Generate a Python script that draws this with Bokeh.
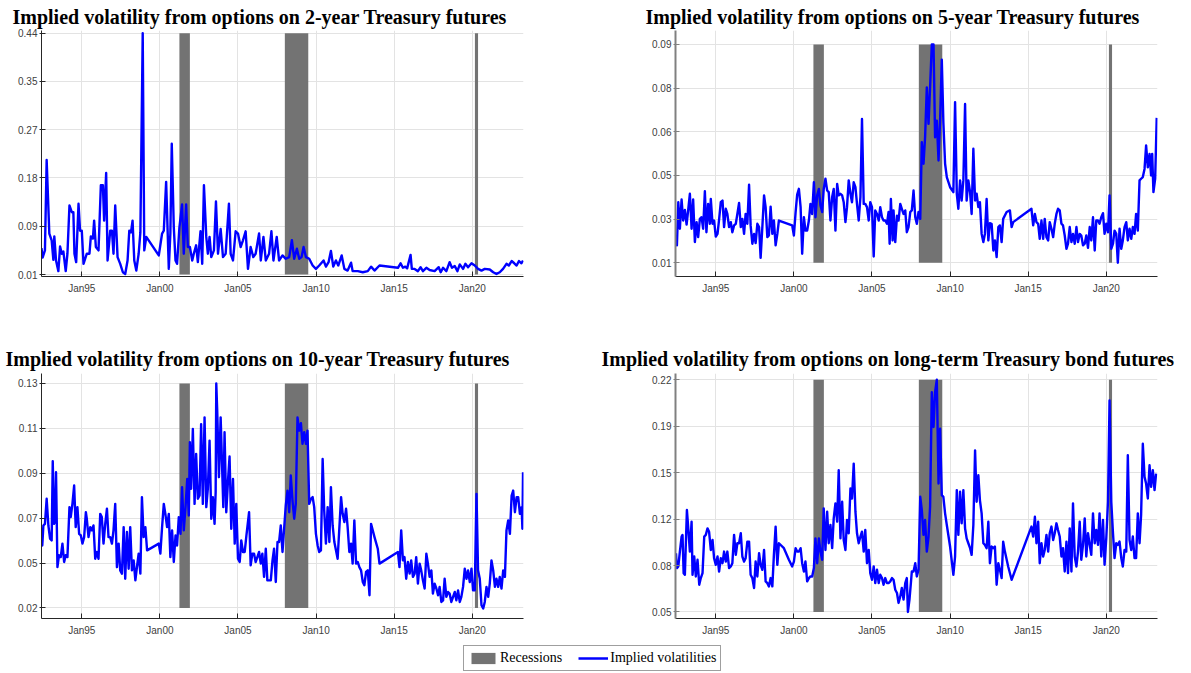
import numpy as np
from bokeh.plotting import figure
from bokeh.layouts import column, row
from bokeh.models import FixedTicker, Legend, LegendItem, Range1d
from bokeh.embed import file_html
from bokeh.resources import INLINE

# ---------------- data ----------------
rec_start = [2001.25, 2008.00, 2020.17]
rec_end = [2001.92, 2009.50, 2020.37]

x_tick_years = [1995, 2000, 2005, 2010, 2015, 2020]
x_tick_labels = ["Jan95", "Jan00", "Jan05", "Jan10", "Jan15", "Jan20"]

title_2y = "Implied volatility from options on 2-year Treasury futures"
title_5y = "Implied volatility from options on 5-year Treasury futures"
title_10y = "Implied volatility from options on 10-year Treasury futures"
title_bond = "Implied volatility from options on long-term Treasury bond futures"

ylabels_2y = ["0.01", "0.09", "0.18", "0.27", "0.35", "0.44"]
ylabels_5y = ["0.01", "0.03", "0.05", "0.06", "0.08", "0.09"]
ylabels_10y = ["0.02", "0.05", "0.07", "0.09", "0.11", "0.13"]
ylabels_bond = ["0.05", "0.08", "0.12", "0.15", "0.19", "0.22"]

dates_2y = [
    1992.42, 1992.49, 1992.64, 1992.75, 1992.92, 1993.07, 1993.18, 1993.24, 1993.35, 1993.50,
    1993.61, 1993.72, 1993.82, 1993.97, 1994.08, 1994.21, 1994.36, 1994.46, 1994.53, 1994.64,
    1994.79, 1994.89, 1995.00, 1995.11, 1995.32, 1995.49, 1995.58, 1995.71, 1995.79, 1995.90,
    1996.07, 1996.22, 1996.35, 1996.43, 1996.56, 1996.65, 1996.82, 1996.93, 1997.03, 1997.14,
    1997.29, 1997.46, 1997.63, 1997.78, 1997.93, 1998.04, 1998.15, 1998.25, 1998.36, 1998.49,
    1998.64, 1998.75, 1998.90, 1999.00, 1999.13, 1999.93, 2000.14, 2000.25, 2000.40, 2000.57,
    2000.67, 2000.76, 2000.89, 2001.00, 2001.10, 2001.25, 2001.42, 2001.53, 2001.68, 2001.79,
    2001.92, 2002.07, 2002.17, 2002.32, 2002.43, 2002.60, 2002.71, 2002.82, 2002.97, 2003.07,
    2003.18, 2003.29, 2003.46, 2003.59, 2003.72, 2003.89, 2004.04, 2004.21, 2004.42, 2004.53,
    2004.68, 2004.85, 2005.00, 2005.17, 2005.32, 2005.49, 2005.64, 2005.81, 2005.98, 2006.13,
    2006.35, 2006.46, 2006.63, 2006.78, 2006.99, 2007.14, 2007.27, 2007.48, 2007.63, 2007.85,
    2008.06, 2008.28, 2008.45, 2008.60, 2008.77, 2008.92, 2009.07, 2009.20, 2009.35, 2009.56,
    2009.78, 2009.99, 2010.20, 2010.48, 2010.63, 2010.80, 2010.95, 2011.10, 2011.27, 2011.42,
    2011.64, 2011.81, 2012.02, 2012.24, 2012.34, 2012.67, 2012.99, 2013.31, 2013.52, 2013.74,
    2014.06, 2015.24, 2015.41, 2015.56, 2015.71, 2015.83, 2016.05, 2016.13, 2016.31, 2016.52,
    2016.69, 2016.84, 2017.06, 2017.27, 2017.59, 2017.85, 2017.98, 2018.13, 2018.34, 2018.55,
    2018.70, 2018.88, 2019.05, 2019.20, 2019.41, 2019.56, 2019.73, 2019.95, 2020.16, 2020.37,
    2020.59, 2020.80, 2021.12, 2021.34, 2021.55, 2021.76, 2021.97, 2022.19, 2022.34, 2022.52,
    2022.69, 2022.84, 2022.99, 2023.15, 2023.25]
iv_2y = [
    0.057, 0.040, 0.053, 0.214, 0.083, 0.071, 0.036, 0.078, 0.035, 0.016,
    0.060, 0.047, 0.051, 0.016, 0.047, 0.133, 0.121, 0.121, 0.047, 0.032,
    0.136, 0.088, 0.088, 0.029, 0.047, 0.047, 0.078, 0.074, 0.106, 0.059,
    0.053, 0.169, 0.169, 0.106, 0.191, 0.035, 0.088, 0.088, 0.047, 0.133,
    0.041, 0.029, 0.014, 0.011, 0.035, 0.088, 0.085, 0.106, 0.035, 0.017,
    0.047, 0.085, 0.440, 0.053, 0.077, 0.044, 0.083, 0.088, 0.175, 0.020,
    0.083, 0.243, 0.094, 0.035, 0.029, 0.094, 0.135, 0.047, 0.135, 0.059,
    0.059, 0.035, 0.047, 0.062, 0.032, 0.087, 0.029, 0.169, 0.077, 0.047,
    0.077, 0.041, 0.053, 0.140, 0.047, 0.091, 0.041, 0.047, 0.136, 0.047,
    0.035, 0.087, 0.083, 0.059, 0.071, 0.087, 0.020, 0.059, 0.041, 0.047,
    0.083, 0.035, 0.077, 0.035, 0.047, 0.087, 0.035, 0.077, 0.035, 0.044,
    0.038, 0.041, 0.071, 0.038, 0.056, 0.038, 0.041, 0.059, 0.041, 0.038,
    0.026, 0.020, 0.026, 0.035, 0.024, 0.032, 0.052, 0.024, 0.035, 0.026,
    0.044, 0.020, 0.017, 0.031, 0.016, 0.016, 0.014, 0.016, 0.024, 0.017,
    0.026, 0.022, 0.030, 0.022, 0.024, 0.021, 0.045, 0.020, 0.020, 0.016,
    0.023, 0.016, 0.022, 0.018, 0.016, 0.023, 0.014, 0.022, 0.016, 0.032,
    0.022, 0.025, 0.016, 0.028, 0.020, 0.029, 0.023, 0.030, 0.026, 0.020,
    0.017, 0.020, 0.019, 0.014, 0.011, 0.014, 0.020, 0.029, 0.026, 0.034,
    0.030, 0.026, 0.034, 0.030, 0.035]

dates_5y = [
    1992.45, 1992.51, 1992.60, 1992.70, 1992.81, 1992.91, 1993.02, 1993.13, 1993.23, 1993.34,
    1993.45, 1993.55, 1993.66, 1993.77, 1993.87, 1993.98, 1994.09, 1994.19, 1994.30, 1994.40,
    1994.51, 1994.62, 1994.68, 1994.79, 1994.89, 1995.00, 1995.11, 1995.21, 1995.32, 1995.43,
    1995.53, 1995.64, 1995.74, 1995.85, 1995.96, 1996.06, 1996.17, 1996.28, 1996.38, 1996.49,
    1996.60, 1996.70, 1996.81, 1996.91, 1997.02, 1997.13, 1997.23, 1997.34, 1997.45, 1997.55,
    1997.66, 1997.77, 1997.87, 1997.98, 1998.09, 1998.19, 1998.30, 1998.40, 1998.51, 1998.62,
    1998.72, 1998.83, 1998.94, 1999.04, 1999.89, 2000.00, 2000.11, 2000.21, 2000.32, 2000.43,
    2000.53, 2000.64, 2000.74, 2000.85, 2000.96, 2001.06, 2001.17, 2001.28, 2001.38, 2001.49,
    2001.60, 2001.70, 2001.81, 2001.91, 2002.02, 2002.13, 2002.23, 2002.34, 2002.45, 2002.55,
    2002.66, 2002.77, 2002.87, 2002.98, 2003.09, 2003.19, 2003.30, 2003.40, 2003.51, 2003.62,
    2003.72, 2003.83, 2003.94, 2004.04, 2004.15, 2004.26, 2004.36, 2004.47, 2004.57, 2004.68,
    2004.79, 2004.89, 2005.00, 2005.11, 2005.21, 2005.32, 2005.43, 2005.53, 2005.64, 2005.74,
    2005.85, 2005.96, 2006.06, 2006.13, 2006.21, 2006.32, 2006.38, 2006.49, 2006.60, 2006.70,
    2006.81, 2006.91, 2007.02, 2007.13, 2007.23, 2007.34, 2007.45, 2007.55, 2007.66, 2007.77,
    2007.87, 2007.98, 2008.09, 2008.19, 2008.30, 2008.40, 2008.51, 2008.62, 2008.72, 2008.83,
    2008.94, 2009.04, 2009.15, 2009.26, 2009.36, 2009.47, 2009.57, 2009.68, 2009.79, 2010.00,
    2010.21, 2010.32, 2010.43, 2010.53, 2010.64, 2010.74, 2010.85, 2010.96, 2011.06, 2011.17,
    2011.28, 2011.38, 2011.49, 2011.60, 2011.70, 2011.81, 2011.91, 2012.02, 2012.13, 2012.23,
    2012.34, 2012.45, 2012.55, 2012.66, 2012.77, 2012.87, 2012.98, 2013.09, 2013.19, 2013.30,
    2013.40, 2013.62, 2013.83, 2013.94, 2014.04, 2015.21, 2015.32, 2015.43, 2015.53, 2015.64,
    2015.74, 2015.85, 2015.96, 2016.06, 2016.17, 2016.28, 2016.38, 2016.49, 2016.60, 2016.70,
    2016.81, 2016.91, 2017.02, 2017.13, 2017.23, 2017.34, 2017.45, 2017.55, 2017.66, 2017.77,
    2017.87, 2017.98, 2018.09, 2018.19, 2018.30, 2018.40, 2018.51, 2018.62, 2018.72, 2018.83,
    2018.94, 2019.04, 2019.15, 2019.26, 2019.36, 2019.47, 2019.57, 2019.68, 2019.79, 2019.89,
    2020.00, 2020.11, 2020.21, 2020.32, 2020.43, 2020.53, 2020.64, 2020.74, 2020.85, 2020.96,
    2021.06, 2021.17, 2021.28, 2021.38, 2021.49, 2021.60, 2021.70, 2021.81, 2021.91, 2022.02,
    2022.13, 2022.23, 2022.34, 2022.45, 2022.55, 2022.66, 2022.77, 2022.87, 2022.94, 2023.02,
    2023.13, 2023.23]
iv_5y = [
    0.0200, 0.0164, 0.0322, 0.0225, 0.0332, 0.0255, 0.0294, 0.0240, 0.0292, 0.0353,
    0.0225, 0.0332, 0.0176, 0.0249, 0.0194, 0.0261, 0.0267, 0.0225, 0.0362, 0.0212,
    0.0316, 0.0243, 0.0334, 0.0243, 0.0255, 0.0196, 0.0206, 0.0258, 0.0322, 0.0328,
    0.0231, 0.0298, 0.0279, 0.0231, 0.0249, 0.0212, 0.0237, 0.0243, 0.0279, 0.0319,
    0.0231, 0.0261, 0.0206, 0.0279, 0.0243, 0.0386, 0.0237, 0.0170, 0.0206, 0.0172,
    0.0243, 0.0231, 0.0118, 0.0231, 0.0347, 0.0304, 0.0194, 0.0200, 0.0306, 0.0206,
    0.0255, 0.0164, 0.0206, 0.0255, 0.0237, 0.0200, 0.0286, 0.0350, 0.0371, 0.0304,
    0.0133, 0.0267, 0.0218, 0.0218, 0.0255, 0.0316, 0.0279, 0.0395, 0.0267, 0.0347,
    0.0371, 0.0310, 0.0286, 0.0371, 0.0408, 0.0365, 0.0359, 0.0255, 0.0341, 0.0371,
    0.0218, 0.0389, 0.0347, 0.0353, 0.0347, 0.0322, 0.0249, 0.0304, 0.0402, 0.0353,
    0.0322, 0.0395, 0.0377, 0.0316, 0.0255, 0.0341, 0.0627, 0.0316, 0.0316, 0.0304,
    0.0255, 0.0322, 0.0304, 0.0123, 0.0292, 0.0279, 0.0255, 0.0304, 0.0267, 0.0255,
    0.0255, 0.0243, 0.0286, 0.0170, 0.0334, 0.0182, 0.0292, 0.0176, 0.0273, 0.0255,
    0.0316, 0.0298, 0.0279, 0.0292, 0.0212, 0.0231, 0.0286, 0.0292, 0.0365, 0.0267,
    0.0243, 0.0286, 0.0261, 0.0542, 0.0463, 0.0560, 0.0743, 0.0609, 0.0743, 0.0900,
    0.0900, 0.0560, 0.0621, 0.0475, 0.0621, 0.0844, 0.0615, 0.0463, 0.0414, 0.0377,
    0.0359, 0.0689, 0.0353, 0.0298, 0.0402, 0.0328, 0.0402, 0.0682, 0.0328, 0.0402,
    0.0359, 0.0279, 0.0518, 0.0328, 0.0353, 0.0304, 0.0322, 0.0206, 0.0176, 0.0206,
    0.0334, 0.0182, 0.0245, 0.0243, 0.0145, 0.0182, 0.0121, 0.0231, 0.0237, 0.0176,
    0.0261, 0.0286, 0.0292, 0.0231, 0.0249, 0.0298, 0.0237, 0.0279, 0.0249, 0.0243,
    0.0188, 0.0255, 0.0188, 0.0261, 0.0194, 0.0182, 0.0249, 0.0225, 0.0194, 0.0243,
    0.0279, 0.0298, 0.0292, 0.0243, 0.0237, 0.0200, 0.0151, 0.0170, 0.0231, 0.0176,
    0.0206, 0.0170, 0.0231, 0.0176, 0.0206, 0.0200, 0.0164, 0.0170, 0.0200, 0.0155,
    0.0231, 0.0182, 0.0267, 0.0145, 0.0255, 0.0255, 0.0243, 0.0267, 0.0282, 0.0206,
    0.0243, 0.0212, 0.0347, 0.0151, 0.0170, 0.0218, 0.0206, 0.0100, 0.0225, 0.0151,
    0.0182, 0.0231, 0.0249, 0.0182, 0.0225, 0.0188, 0.0231, 0.0206, 0.0279, 0.0218,
    0.0402, 0.0408, 0.0414, 0.0444, 0.0530, 0.0450, 0.0499, 0.0420, 0.0499, 0.0359,
    0.0408, 0.0631]

dates_10y = [
    1992.42, 1992.47, 1992.54, 1992.64, 1992.75, 1992.86, 1992.97, 1993.07, 1993.14, 1993.22,
    1993.29, 1993.35, 1993.44, 1993.54, 1993.65, 1993.76, 1993.87, 1993.97, 1994.08, 1994.21,
    1994.29, 1994.40, 1994.51, 1994.61, 1994.72, 1994.83, 1994.94, 1995.04, 1995.15, 1995.26,
    1995.32, 1995.43, 1995.54, 1995.64, 1995.75, 1995.86, 1995.96, 1996.07, 1996.18, 1996.28,
    1996.39, 1996.50, 1996.61, 1996.71, 1996.82, 1996.93, 1997.03, 1997.14, 1997.25, 1997.36,
    1997.46, 1997.57, 1997.68, 1997.78, 1997.89, 1998.00, 1998.10, 1998.21, 1998.32, 1998.43,
    1998.53, 1998.64, 1998.75, 1998.85, 1998.96, 1999.07, 1999.18, 1999.93, 2000.03, 2000.14,
    2000.25, 2000.35, 2000.46, 2000.57, 2000.67, 2000.78, 2000.89, 2001.00, 2001.10, 2001.21,
    2001.32, 2001.42, 2001.53, 2001.64, 2001.75, 2001.85, 2001.92, 2002.00, 2002.11, 2002.22,
    2002.32, 2002.43, 2002.54, 2002.64, 2002.75, 2002.86, 2002.97, 2003.07, 2003.18, 2003.29,
    2003.39, 2003.50, 2003.57, 2003.61, 2003.67, 2003.78, 2003.89, 2003.99, 2004.06, 2004.14,
    2004.25, 2004.36, 2004.46, 2004.57, 2004.68, 2004.79, 2004.89, 2005.00, 2005.11, 2005.21,
    2005.32, 2005.43, 2005.54, 2005.71, 2005.81, 2005.92, 2006.03, 2006.13, 2006.24, 2006.35,
    2006.46, 2006.56, 2006.67, 2006.78, 2006.88, 2006.99, 2007.10, 2007.21, 2007.31, 2007.42,
    2007.53, 2007.63, 2007.74, 2007.85, 2007.96, 2008.06, 2008.17, 2008.28, 2008.38, 2008.49,
    2008.60, 2008.70, 2008.81, 2008.92, 2009.03, 2009.13, 2009.24, 2009.35, 2009.45, 2009.56,
    2009.67, 2009.78, 2009.88, 2009.99, 2010.10, 2010.20, 2010.31, 2010.42, 2010.52, 2010.63,
    2010.74, 2010.85, 2010.95, 2011.06, 2011.17, 2011.38, 2011.60, 2011.70, 2011.81, 2011.92,
    2012.02, 2012.13, 2012.24, 2012.34, 2012.45, 2012.56, 2012.67, 2012.77, 2012.88, 2012.99,
    2013.09, 2013.20, 2013.31, 2013.42, 2013.52, 2013.74, 2013.95, 2014.06, 2015.24, 2015.34,
    2015.45, 2015.56, 2015.66, 2015.77, 2015.88, 2015.99, 2016.09, 2016.20, 2016.31, 2016.41,
    2016.52, 2016.63, 2016.73, 2016.84, 2016.95, 2017.06, 2017.16, 2017.27, 2017.38, 2017.48,
    2017.59, 2017.70, 2017.81, 2017.91, 2018.02, 2018.13, 2018.23, 2018.34, 2018.45, 2018.55,
    2018.66, 2018.77, 2018.88, 2018.98, 2019.09, 2019.20, 2019.30, 2019.41, 2019.52, 2019.63,
    2019.73, 2019.84, 2019.95, 2020.05, 2020.16, 2020.27, 2020.37, 2020.48, 2020.59, 2020.70,
    2020.80, 2020.91, 2021.02, 2021.12, 2021.23, 2021.34, 2021.45, 2021.55, 2021.66, 2021.76,
    2021.87, 2021.98, 2022.09, 2022.19, 2022.30, 2022.41, 2022.52, 2022.62, 2022.73, 2022.84,
    2022.94, 2023.05, 2023.16, 2023.21, 2023.25]
iv_10y = [
    0.0506, 0.0506, 0.0604, 0.0612, 0.0735, 0.0604, 0.0539, 0.0531, 0.0919, 0.0612,
    0.0621, 0.0865, 0.0400, 0.0458, 0.0449, 0.0515, 0.0425, 0.0458, 0.0449, 0.0694,
    0.0645, 0.0710, 0.0800, 0.0596, 0.0694, 0.0563, 0.0555, 0.0515, 0.0547, 0.0669,
    0.0637, 0.0547, 0.0596, 0.0580, 0.0604, 0.0441, 0.0474, 0.0441, 0.0661, 0.0645,
    0.0515, 0.0612, 0.0686, 0.0547, 0.0547, 0.0515, 0.0580, 0.0710, 0.0400, 0.0515,
    0.0384, 0.0368, 0.0596, 0.0343, 0.0572, 0.0392, 0.0596, 0.0384, 0.0433, 0.0335,
    0.0400, 0.0466, 0.0368, 0.0743, 0.0547, 0.0596, 0.0482, 0.0515, 0.0466, 0.0596,
    0.0710, 0.0661, 0.0596, 0.0661, 0.0449, 0.0580, 0.0425, 0.0555, 0.0506, 0.0645,
    0.0563, 0.0792, 0.0580, 0.0694, 0.0832, 0.0653, 0.1012, 0.0784, 0.1077, 0.0710,
    0.0955, 0.0735, 0.0751, 0.1101, 0.0710, 0.1134, 0.0694, 0.0784, 0.1020, 0.0637,
    0.0743, 0.0612, 0.0767, 0.1300, 0.1167, 0.0841, 0.1134, 0.0873, 0.0694, 0.1061,
    0.0669, 0.0824, 0.0942, 0.0588, 0.0832, 0.0515, 0.0710, 0.0441, 0.0425, 0.0531,
    0.0474, 0.0474, 0.0555, 0.0669, 0.0409, 0.0466, 0.0466, 0.0425, 0.0449, 0.0474,
    0.0417, 0.0466, 0.0352, 0.0490, 0.0335, 0.0335, 0.0335, 0.0433, 0.0490, 0.0327,
    0.0523, 0.0523, 0.0604, 0.0474, 0.0596, 0.0702, 0.0775, 0.0669, 0.0849, 0.0726,
    0.0637, 0.0710, 0.1134, 0.1069, 0.1105, 0.1004, 0.1061, 0.1004, 0.1069, 0.0710,
    0.0735, 0.0743, 0.0694, 0.0563, 0.0506, 0.0474, 0.0482, 0.0930, 0.0678, 0.0515,
    0.0694, 0.0523, 0.0792, 0.0604, 0.0523, 0.0441, 0.0743, 0.0661, 0.0621, 0.0686,
    0.0596, 0.0474, 0.0515, 0.0417, 0.0629, 0.0417, 0.0425, 0.0400, 0.0384, 0.0327,
    0.0311, 0.0376, 0.0384, 0.0262, 0.0612, 0.0547, 0.0490, 0.0417, 0.0474, 0.0400,
    0.0580, 0.0433, 0.0449, 0.0343, 0.0425, 0.0368, 0.0433, 0.0352, 0.0368, 0.0449,
    0.0319, 0.0417, 0.0384, 0.0335, 0.0295, 0.0466, 0.0417, 0.0352, 0.0384, 0.0270,
    0.0319, 0.0295, 0.0262, 0.0303, 0.0229, 0.0237, 0.0343, 0.0254, 0.0278, 0.0270,
    0.0229, 0.0254, 0.0278, 0.0237, 0.0286, 0.0229, 0.0254, 0.0303, 0.0392, 0.0343,
    0.0384, 0.0327, 0.0392, 0.0286, 0.0286, 0.0759, 0.0384, 0.0343, 0.0213, 0.0197,
    0.0229, 0.0303, 0.0254, 0.0319, 0.0433, 0.0384, 0.0303, 0.0343, 0.0303, 0.0352,
    0.0295, 0.0384, 0.0352, 0.0580, 0.0629, 0.0563, 0.0751, 0.0775, 0.0669, 0.0743,
    0.0743, 0.0661, 0.0694, 0.0588, 0.0865]

dates_bond = [
    1992.45, 1992.51, 1992.60, 1992.70, 1992.81, 1992.87, 1992.94, 1993.02, 1993.15, 1993.23,
    1993.34, 1993.45, 1993.51, 1993.62, 1993.72, 1993.83, 1993.94, 1994.04, 1994.15, 1994.26,
    1994.36, 1994.47, 1994.57, 1994.68, 1994.79, 1994.89, 1995.00, 1995.11, 1995.21, 1995.32,
    1995.43, 1995.53, 1995.64, 1995.74, 1995.85, 1995.96, 1996.06, 1996.17, 1996.28, 1996.38,
    1996.49, 1996.60, 1996.70, 1996.81, 1996.91, 1997.02, 1997.13, 1997.23, 1997.34, 1997.45,
    1997.55, 1997.66, 1997.77, 1997.87, 1997.98, 1998.09, 1998.19, 1998.30, 1998.40, 1998.51,
    1998.62, 1998.72, 1998.83, 1998.94, 1999.04, 1999.36, 1999.68, 1999.89, 2000.00, 2000.11,
    2000.21, 2000.32, 2000.43, 2000.53, 2000.64, 2000.74, 2000.85, 2000.96, 2001.06, 2001.17,
    2001.28, 2001.38, 2001.49, 2001.60, 2001.70, 2001.81, 2001.91, 2002.02, 2002.13, 2002.23,
    2002.34, 2002.45, 2002.55, 2002.66, 2002.77, 2002.87, 2002.98, 2003.09, 2003.19, 2003.30,
    2003.40, 2003.51, 2003.62, 2003.72, 2003.83, 2003.94, 2004.04, 2004.15, 2004.26, 2004.36,
    2004.47, 2004.57, 2004.68, 2004.79, 2004.89, 2005.00, 2005.11, 2005.21, 2005.32, 2005.43,
    2005.53, 2005.64, 2005.74, 2005.85, 2005.96, 2006.06, 2006.17, 2006.28, 2006.38, 2006.49,
    2006.60, 2006.70, 2006.81, 2006.91, 2007.02, 2007.13, 2007.23, 2007.30, 2007.40, 2007.49,
    2007.55, 2007.66, 2007.77, 2007.87, 2007.98, 2008.09, 2008.19, 2008.30, 2008.40, 2008.51,
    2008.62, 2008.72, 2008.83, 2008.94, 2009.04, 2009.15, 2009.26, 2009.36, 2009.47, 2009.57,
    2009.68, 2009.79, 2010.00, 2010.21, 2010.32, 2010.43, 2010.53, 2010.64, 2010.74, 2010.85,
    2010.96, 2011.06, 2011.17, 2011.28, 2011.38, 2011.49, 2011.60, 2011.70, 2011.81, 2011.91,
    2012.02, 2012.13, 2012.23, 2012.34, 2012.45, 2012.55, 2012.66, 2012.77, 2012.87, 2012.98,
    2013.09, 2013.19, 2013.30, 2013.40, 2013.51, 2013.72, 2013.94, 2015.21, 2015.32, 2015.43,
    2015.53, 2015.64, 2015.74, 2015.85, 2015.96, 2016.06, 2016.17, 2016.28, 2016.38, 2016.49,
    2016.60, 2016.70, 2016.81, 2016.91, 2017.02, 2017.13, 2017.23, 2017.34, 2017.45, 2017.55,
    2017.66, 2017.77, 2017.87, 2017.98, 2018.09, 2018.19, 2018.30, 2018.40, 2018.51, 2018.62,
    2018.72, 2018.83, 2018.94, 2019.04, 2019.15, 2019.26, 2019.36, 2019.47, 2019.57, 2019.68,
    2019.79, 2019.89, 2020.00, 2020.11, 2020.21, 2020.32, 2020.43, 2020.53, 2020.64, 2020.74,
    2020.85, 2020.96, 2021.06, 2021.17, 2021.28, 2021.38, 2021.49, 2021.60, 2021.70, 2021.81,
    2021.91, 2022.02, 2022.13, 2022.23, 2022.34, 2022.45, 2022.55, 2022.66, 2022.77, 2022.87,
    2022.98, 2023.09, 2023.19]
iv_bond = [
    0.0930, 0.0821, 0.0833, 0.0942, 0.1052, 0.1064, 0.0784, 0.0772, 0.1246, 0.1125,
    0.0942, 0.1161, 0.0772, 0.0906, 0.0760, 0.0882, 0.0699, 0.0748, 0.0784, 0.1052,
    0.1064, 0.1112, 0.1088, 0.0954, 0.1027, 0.0894, 0.0845, 0.0906, 0.0796, 0.0894,
    0.0857, 0.0942, 0.0869, 0.0942, 0.0821, 0.0833, 0.0857, 0.1064, 0.0918, 0.1003,
    0.1003, 0.1076, 0.0906, 0.0869, 0.0894, 0.1015, 0.1015, 0.0772, 0.0748, 0.0675,
    0.0869, 0.0760, 0.0930, 0.0845, 0.0809, 0.0954, 0.0724, 0.0711, 0.0687, 0.0748,
    0.0687, 0.0918, 0.1125, 0.0845, 0.1003, 0.0967, 0.0882, 0.0833, 0.0869, 0.0967,
    0.0942, 0.0942, 0.0967, 0.0857, 0.0796, 0.0869, 0.0724, 0.0748, 0.0760, 0.0760,
    0.0821, 0.1039, 0.0857, 0.1039, 0.0942, 0.0882, 0.1258, 0.0954, 0.1234, 0.1003,
    0.1137, 0.0967, 0.1185, 0.1295, 0.1161, 0.1538, 0.1039, 0.1307, 0.1027, 0.0954,
    0.1173, 0.1076, 0.1404, 0.1331, 0.1586, 0.1234, 0.1076, 0.1003, 0.1052, 0.1088,
    0.0942, 0.1100, 0.0857, 0.0954, 0.0784, 0.0736, 0.0833, 0.0711, 0.0809, 0.0711,
    0.0772, 0.0748, 0.0699, 0.0748, 0.0711, 0.0711, 0.0724, 0.0748, 0.0736, 0.0663,
    0.0639, 0.0566, 0.0614, 0.0675, 0.0590, 0.0711, 0.0748, 0.0500, 0.0590, 0.0711,
    0.0796, 0.0796, 0.0857, 0.0760, 0.0809, 0.1343, 0.1246, 0.1064, 0.1173, 0.0942,
    0.1052, 0.1270, 0.2109, 0.1854, 0.2109, 0.2200, 0.1440, 0.1841, 0.1355, 0.1343,
    0.1222, 0.1137, 0.0979, 0.0772, 0.0906, 0.1392, 0.1064, 0.1380, 0.1149, 0.1392,
    0.1112, 0.1039, 0.1003, 0.0967, 0.0918, 0.1137, 0.1683, 0.1307, 0.1501, 0.1319,
    0.1222, 0.1003, 0.0991, 0.0967, 0.1161, 0.0857, 0.0979, 0.0967, 0.0979, 0.0699,
    0.0857, 0.0809, 0.0748, 0.1015, 0.0942, 0.0833, 0.0736, 0.1125, 0.1052, 0.1197,
    0.1003, 0.1161, 0.0857, 0.1003, 0.0906, 0.0954, 0.1064, 0.0942, 0.1076, 0.1125,
    0.1027, 0.1076, 0.1149, 0.1100, 0.1052, 0.0906, 0.0967, 0.0796, 0.1015, 0.0784,
    0.1112, 0.0796, 0.1295, 0.0906, 0.0833, 0.0942, 0.1161, 0.0882, 0.0991, 0.1185,
    0.0906, 0.1076, 0.0991, 0.0918, 0.1222, 0.1003, 0.1100, 0.0991, 0.1222, 0.0906,
    0.1173, 0.0845, 0.1039, 0.1307, 0.2048, 0.1307, 0.1076, 0.0894, 0.1003, 0.0991,
    0.1015, 0.0894, 0.0833, 0.0954, 0.0942, 0.1647, 0.1027, 0.0954, 0.1052, 0.0894,
    0.0894, 0.1222, 0.1003, 0.1210, 0.1732, 0.1489, 0.1440, 0.1331, 0.1574, 0.1416,
    0.1538, 0.1392, 0.1513]

# ---------------- styling ----------------
X_START, X_END = 1992.42, 2023.28
REC_COLOR = "#737373"
LINE_COLOR = "#0000ff"
TICK_FONT = "Liberation Sans"
TITLE_FONT = "Liberation Serif"


def make_panel(title, dates, vals, tick_lo, tick_hi, ylabels, y_lo, y_hi,
               width, height, bl, br, bt, bb, yaxis_color, yaxis_width,
               title_offset, title_standoff):
    p = figure(width=width, height=height,
               x_range=Range1d(X_START, X_END), y_range=Range1d(y_lo, y_hi),
               output_backend="svg", toolbar_location=None,
               min_border_left=bl, min_border_right=br,
               min_border_top=bt, min_border_bottom=bb)
    p.title.text = title
    p.title.align = "left"
    p.title.offset = title_offset
    p.title.standoff = title_standoff
    p.title.text_font = TITLE_FONT
    p.title.text_font_style = "bold"
    p.title.text_font_size = "20px"
    p.title.text_color = "black"

    p.outline_line_color = None
    p.background_fill_color = "white"
    p.border_fill_color = "white"

    yt = [round(float(v), 6) for v in np.linspace(tick_lo, tick_hi, 6)]
    yticker = FixedTicker(ticks=yt)
    xticker = FixedTicker(ticks=x_tick_years)
    p.yaxis.ticker = yticker
    p.ygrid.ticker = yticker
    p.xaxis.ticker = xticker
    p.xgrid.ticker = xticker
    p.yaxis.major_label_overrides = {t: lab for t, lab in zip(yt, ylabels)}
    p.xaxis.major_label_overrides = {t: lab for t, lab in zip(x_tick_years, x_tick_labels)}

    for ax in (p.xaxis, p.yaxis):
        ax.major_label_text_font = TICK_FONT
        ax.major_label_text_font_size = "10px"
        ax.major_label_text_color = "#404040"
        ax.minor_tick_line_color = None
    p.xaxis.axis_line_color = "#262626"
    p.xaxis.major_tick_line_color = "#262626"
    p.xaxis.major_tick_in = 5
    p.xaxis.major_tick_out = 0
    p.xaxis.major_label_standoff = 6
    p.yaxis.axis_line_color = yaxis_color
    p.yaxis.axis_line_width = yaxis_width
    p.yaxis.major_tick_line_color = yaxis_color
    p.yaxis.major_tick_in = 4
    p.yaxis.major_tick_out = 2
    p.yaxis.major_label_standoff = 2

    p.grid.grid_line_color = "#e3e3e3"
    p.grid.grid_line_width = 1

    p.quad(left=rec_start, right=rec_end, bottom=tick_lo, top=tick_hi,
           fill_color=REC_COLOR, line_color=None)
    p.line(dates, vals, line_color=LINE_COLOR, line_width=2.4, line_join="round")
    return p


TOP_H, BOT_H, LEG_H = 338, 302, 32
LEFT_W, RIGHT_W = 568, 615

p1 = make_panel(title_2y, dates_2y, iv_2y, 0.01, 0.44, ylabels_2y, 0.00644, 0.4448,
                LEFT_W, TOP_H, 41, 45, 30, 62, "#262626", 1, -29, 5)
p2 = make_panel(title_5y, dates_5y, iv_5y, 0.01, 0.09, ylabels_5y, 0.00498, 0.09513,
                RIGHT_W, TOP_H, 107, 26, 30, 62, "#808080", 2, -30, 5)
p3 = make_panel(title_10y, dates_10y, iv_10y, 0.02, 0.13, ylabels_10y, 0.0148, 0.1349,
                LEFT_W, BOT_H, 41, 45, 35, 22, "#262626", 1, -36, 8)
p4 = make_panel(title_bond, dates_bond, iv_bond, 0.05, 0.22, ylabels_bond, 0.0452, 0.2246,
                RIGHT_W, BOT_H, 107, 26, 35, 22, "#808080", 2, -74, 8)

# legend strip (proxy renderers lie outside the visible range)
lf = figure(width=LEFT_W + RIGHT_W, height=LEG_H, x_range=Range1d(0, 1), y_range=Range1d(0, 1),
            output_backend="svg", toolbar_location=None, title_location=None,
            x_axis_location=None, y_axis_location=None,
            min_border_left=0, min_border_right=0, min_border_top=0, min_border_bottom=0)
lf.outline_line_color = None
lf.grid.visible = False
r_rec = lf.quad(left=[5], right=[6], top=[6], bottom=[5], fill_color=REC_COLOR, line_color=None)
r_line = lf.line(x=[5, 6], y=[5, 6], line_color=LINE_COLOR, line_width=2.5)
legend = Legend(items=[LegendItem(label="Recessions", renderers=[r_rec]),
                       LegendItem(label="Implied volatilities", renderers=[r_line])],
                orientation="horizontal", location=(463, 1),
                label_text_font=TITLE_FONT, label_text_font_size="14px",
                label_text_color="black", label_standoff=2, label_height=15,
                glyph_width=30, glyph_height=14, spacing=16, padding=4,
                border_line_color="#404040", border_line_width=1,
                background_fill_color="white", background_fill_alpha=1.0)
lf.add_layout(legend)

layout = column(row(p1, p2), row(p3, p4), lf)

with open("out.html", "w") as f:
    f.write(file_html(layout, INLINE))
